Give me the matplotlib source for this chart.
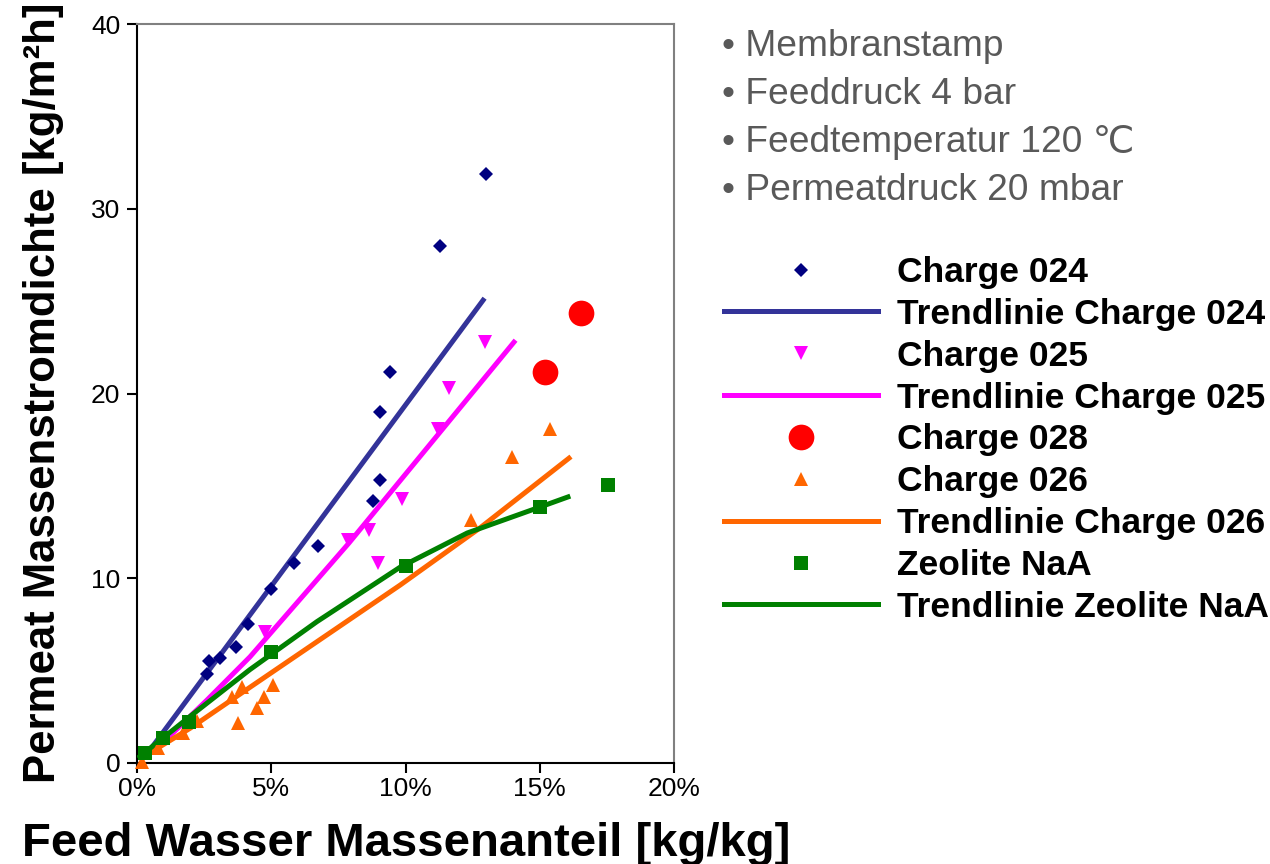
import matplotlib
matplotlib.use("Agg")
import matplotlib.pyplot as plt
from matplotlib.ticker import PercentFormatter

plt.rcParams['font.family'] = ['Liberation Sans', 'DejaVu Sans']

# ---------------- data ----------------
c024_x = [0.0261, 0.0268, 0.0309, 0.0369, 0.0413, 0.0499, 0.0585, 0.0674,
          0.0879, 0.0905, 0.0905, 0.0942, 0.1128, 0.1300]
c024_y = [4.8, 5.5, 5.7, 6.3, 7.5, 9.4, 10.8, 11.75, 14.2, 15.3, 19.0, 21.15, 28.0, 31.9]

c025_x = [0.0477, 0.0786, 0.0864, 0.0898, 0.0987, 0.1121, 0.1162, 0.1296]
c025_y = [7.1, 12.05, 12.6, 10.8, 14.3, 18.1, 20.3, 22.8]

c028_x = [0.1520, 0.1654]
c028_y = [21.15, 24.35]

c026_x = [0.0019, 0.0078, 0.0171, 0.0223, 0.0354, 0.0376, 0.0391, 0.0447,
          0.0473, 0.0507, 0.1244, 0.1397, 0.1538]
c026_y = [0.05, 0.8, 1.6, 2.3, 3.55, 2.15, 4.1, 3.0, 3.55, 4.2, 13.15, 16.55, 18.1]

zeo_x = [0.003, 0.0097, 0.0194, 0.0499, 0.1002, 0.1501, 0.1754]
zeo_y = [0.55, 1.35, 2.2, 6.0, 10.65, 13.85, 15.05]

# trendlines as drawn in the original
t024_x = [0.0048, 0.1289]
t024_y = [0.7, 25.05]
t025_x = [0.010, 0.026, 0.0421, 0.0789, 0.1404]
t025_y = [1.15, 3.4, 5.75, 11.9, 22.78]
t026_x = [0.002, 0.02, 0.0421, 0.098, 0.1277, 0.1609]
t026_y = [0.3, 1.9, 4.1, 9.63, 12.72, 16.5]
tzeo_x = [0.001, 0.02, 0.042, 0.067, 0.098, 0.123, 0.150, 0.1605]
tzeo_y = [0.35, 2.55, 5.05, 7.65, 10.6, 12.45, 13.85, 14.4]

notes = ["Membranstamp", "Feeddruck 4 bar", "Feedtemperatur 120 \u2103", "Permeatdruck 20 mbar"]

# ---------------- plotting ----------------
fig = plt.figure(figsize=(12.7, 8.64), dpi=100)
ax = fig.add_axes([137/1270, 101/864, 537/1270, 739/864])

lw = 3.6
h1, = ax.plot(c024_x, c024_y, 'D', color='#000080', ms=6.8, mew=0, ls='none', zorder=4, label="Charge 024")
h2, = ax.plot(t024_x, t024_y, color='#333399', lw=lw, zorder=3, label="Trendlinie Charge 024")
h3, = ax.plot(c025_x, c025_y, 'v', color='#FF00FF', ms=9.6, mew=0, ls='none', zorder=4, label="Charge 025")
h4, = ax.plot(t025_x, t025_y, color='#FF00FF', lw=lw, zorder=3, label="Trendlinie Charge 025")
h5, = ax.plot(c028_x, c028_y, 'o', color='#FF0000', ms=18.5, mew=0, ls='none', zorder=4, label="Charge 028")
h6, = ax.plot(c026_x, c026_y, '^', color='#FF6600', ms=9.6, mew=0, ls='none', zorder=4,
              clip_on=False, label="Charge 026")
h7, = ax.plot(t026_x, t026_y, color='#FF6600', lw=lw, zorder=3, label="Trendlinie Charge 026")
h8, = ax.plot(zeo_x, zeo_y, 's', color='#008000', ms=10, mew=0, ls='none', zorder=4, label="Zeolite NaA")
h9, = ax.plot(tzeo_x, tzeo_y, color='#008000', lw=lw, zorder=3, label="Trendlinie Zeolite NaA")

ax.set_xlim(0, 0.20)
ax.set_ylim(0, 40)
ax.set_xticks([0, 0.05, 0.10, 0.15, 0.20])
ax.set_yticks([0, 10, 20, 30, 40])
ax.xaxis.set_major_formatter(PercentFormatter(xmax=1, decimals=0))
ax.tick_params(direction='out', length=7, width=1.5, labelsize=19, colors='black')
ax.tick_params(axis='y', pad=5)
ax.tick_params(axis='x', pad=3)

for side in ('left', 'bottom'):
    ax.spines[side].set_color('black')
    ax.spines[side].set_linewidth(1.5)
for side in ('top', 'right'):
    ax.spines[side].set_color('#808080')
    ax.spines[side].set_linewidth(1.5)

fig.text(406/1270, 8/864, "Feed Wasser Massenanteil [kg/kg]", ha='center', va='baseline',
         fontsize=34, fontweight='bold')
fig.text(44/1270, 1 - 393/864, "Permeat Massenstromdichte [kg/m\u00b2h]", ha='center', va='center',
         rotation=90, fontsize=31.5, fontweight='bold')

# bullet notes at the top right
for i, t in enumerate(notes):
    fig.text(722/1270, 1 - (46 + i*48.3)/864, "\u2022 " + t, ha='left', va='center',
             fontsize=26.7, color='#595959')

handles = [h1, h2, h3, h4, h5, h6, h7, h8, h9]
leg = ax.legend(handles=handles, loc='upper left', bbox_to_anchor=(724/1270, 1 - 256/864),
                bbox_transform=fig.transFigure, frameon=False, numpoints=1,
                prop={'size': 25.5, 'weight': 'bold'}, borderpad=0, borderaxespad=0,
                handlelength=4.35, handletextpad=0.54, labelspacing=0.25)

fig.savefig("out.png", dpi=100)
